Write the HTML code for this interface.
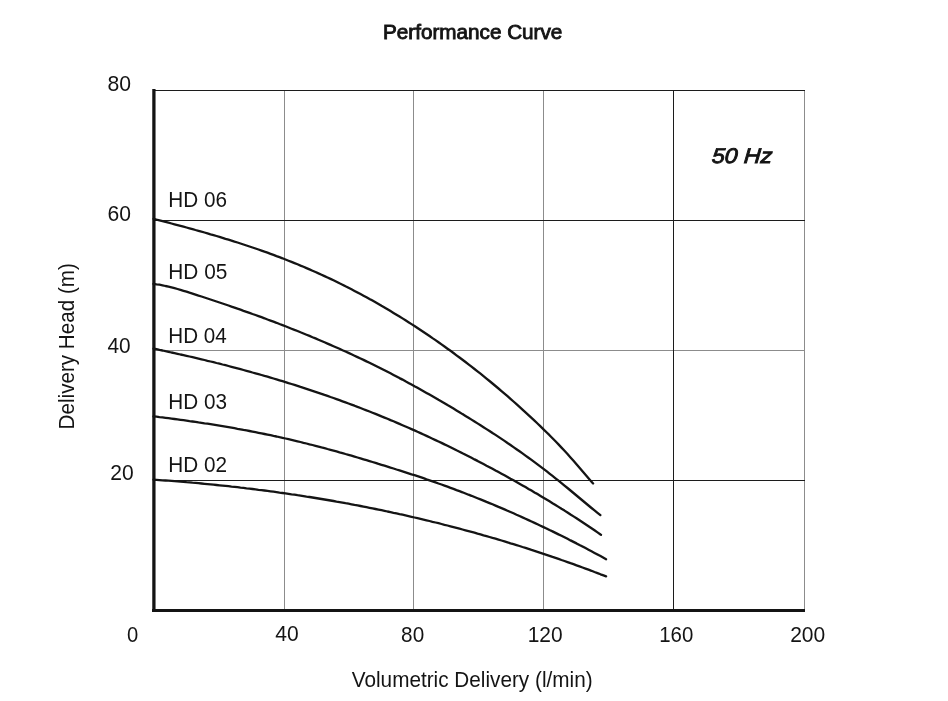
<!DOCTYPE html>
<html><head><meta charset="utf-8">
<style>
html,body{margin:0;padding:0;background:#fff;}
body{width:948px;height:701px;overflow:hidden;}
svg{display:block;will-change:transform;}
text{font-family:"Liberation Sans",sans-serif;fill:#141414;}
</style></head><body>
<svg width="948" height="701" viewBox="0 0 948 701">
<rect width="948" height="701" fill="#fff"/>
<g stroke="#8c8c8c" stroke-width="1" fill="none">
<line x1="284.5" y1="90" x2="284.5" y2="610"/>
<line x1="413.5" y1="90" x2="413.5" y2="610"/>
<line x1="543.5" y1="90" x2="543.5" y2="610"/>
<line x1="804.5" y1="90" x2="804.5" y2="610"/>
<line x1="153" y1="350.5" x2="804" y2="350.5"/>
</g>
<g stroke="#1c1c1c" fill="none" stroke-width="1">
<line x1="673.5" y1="90" x2="673.5" y2="610"/>
<line x1="153" y1="90.5" x2="805" y2="90.5"/>
<line x1="153" y1="220.5" x2="805" y2="220.5"/>
<line x1="153" y1="480.5" x2="805" y2="480.5"/>
</g>
<g stroke="#141414" fill="none">
<line x1="153.9" y1="89" x2="153.9" y2="612" stroke-width="3.3"/>
<line x1="152" y1="610.5" x2="805" y2="610.5" stroke-width="3"/>
</g>
<g stroke="#141414" stroke-width="2.3" fill="none" stroke-linejoin="round" stroke-linecap="round">
<polyline points="153.5,218.8 156.5,219.6 159.5,220.3 162.5,221.1 165.5,221.9 168.5,222.7 171.5,223.5 174.5,224.3 177.5,225.1 180.5,225.9 183.5,226.7 186.5,227.5 189.5,228.3 192.5,229.1 195.5,230.0 198.5,230.8 201.5,231.7 204.5,232.5 207.5,233.4 210.5,234.3 213.5,235.1 216.5,236.0 219.5,236.9 222.5,237.8 225.5,238.8 228.5,239.7 231.5,240.6 234.5,241.6 237.5,242.5 240.5,243.5 243.5,244.5 246.5,245.5 249.5,246.5 252.5,247.5 255.5,248.5 258.5,249.5 261.5,250.6 264.5,251.7 267.5,252.7 270.5,253.8 273.5,254.9 276.5,256.1 279.5,257.2 282.5,258.3 285.5,259.5 288.5,260.7 291.5,261.9 294.5,263.1 297.5,264.3 300.5,265.6 303.5,266.8 306.5,268.1 309.5,269.4 312.5,270.7 315.5,272.0 318.5,273.4 321.5,274.7 324.5,276.1 327.5,277.5 330.5,278.9 333.5,280.3 336.5,281.8 339.5,283.3 342.5,284.7 345.5,286.3 348.5,287.8 351.5,289.3 354.5,290.9 357.5,292.5 360.5,294.1 363.5,295.7 366.5,297.3 369.5,299.0 372.5,300.6 375.5,302.3 378.5,304.0 381.5,305.8 384.5,307.5 387.5,309.3 390.5,311.1 393.5,312.9 396.5,314.7 399.5,316.5 402.5,318.4 405.5,320.3 408.5,322.2 411.5,324.1 414.5,326.0 417.5,328.0 420.5,330.0 423.5,332.0 426.5,334.0 429.5,336.0 432.5,338.1 435.5,340.1 438.5,342.2 441.5,344.4 444.5,346.5 447.5,348.7 450.5,350.8 453.5,353.0 456.5,355.3 459.5,357.5 462.5,359.7 465.5,362.0 468.5,364.3 471.5,366.7 474.5,369.0 477.5,371.4 480.5,373.7 483.5,376.1 486.5,378.6 489.5,381.0 492.5,383.5 495.5,386.0 498.5,388.5 501.5,391.1 504.5,393.6 507.5,396.2 510.5,398.8 513.5,401.5 516.5,404.1 519.5,406.8 522.5,409.6 525.5,412.3 528.5,415.1 531.5,417.9 534.5,420.7 537.5,423.5 540.5,426.4 543.5,429.3 546.5,432.3 549.5,435.2 552.5,438.3 555.5,441.3 558.5,444.4 561.5,447.6 564.5,450.8 567.5,454.0 570.5,457.4 573.5,460.8 576.5,464.3 579.5,467.8 582.5,471.3 585.5,474.8 588.5,478.3 591.5,481.7 593.1,483.5"/>
<polyline points="153.5,283.8 156.5,284.3 159.5,284.7 162.5,285.3 165.5,286.0 168.5,286.6 171.5,287.4 174.5,288.2 177.5,289.0 180.5,289.9 183.5,290.8 186.5,291.7 189.5,292.7 192.5,293.6 195.5,294.6 198.5,295.6 201.5,296.5 204.5,297.5 207.5,298.5 210.5,299.5 213.5,300.5 216.5,301.5 219.5,302.5 222.5,303.5 225.5,304.5 228.5,305.5 231.5,306.6 234.5,307.6 237.5,308.7 240.5,309.7 243.5,310.8 246.5,311.8 249.5,312.9 252.5,314.0 255.5,315.0 258.5,316.1 261.5,317.2 264.5,318.3 267.5,319.5 270.5,320.6 273.5,321.7 276.5,322.8 279.5,324.0 282.5,325.1 285.5,326.3 288.5,327.5 291.5,328.7 294.5,329.9 297.5,331.0 300.5,332.3 303.5,333.5 306.5,334.7 309.5,335.9 312.5,337.2 315.5,338.4 318.5,339.7 321.5,341.0 324.5,342.3 327.5,343.6 330.5,344.9 333.5,346.2 336.5,347.5 339.5,348.8 342.5,350.2 345.5,351.5 348.5,352.9 351.5,354.3 354.5,355.7 357.5,357.1 360.5,358.5 363.5,359.9 366.5,361.4 369.5,362.8 372.5,364.3 375.5,365.8 378.5,367.3 381.5,368.8 384.5,370.3 387.5,371.8 390.5,373.3 393.5,374.9 396.5,376.5 399.5,378.1 402.5,379.6 405.5,381.3 408.5,382.9 411.5,384.5 414.5,386.2 417.5,387.8 420.5,389.5 423.5,391.2 426.5,392.9 429.5,394.6 432.5,396.3 435.5,398.0 438.5,399.8 441.5,401.5 444.5,403.3 447.5,405.1 450.5,406.8 453.5,408.6 456.5,410.4 459.5,412.2 462.5,414.1 465.5,415.9 468.5,417.7 471.5,419.6 474.5,421.5 477.5,423.4 480.5,425.3 483.5,427.2 486.5,429.1 489.5,431.0 492.5,433.0 495.5,434.9 498.5,436.9 501.5,438.9 504.5,440.9 507.5,443.0 510.5,445.0 513.5,447.1 516.5,449.2 519.5,451.3 522.5,453.4 525.5,455.6 528.5,457.7 531.5,459.9 534.5,462.1 537.5,464.4 540.5,466.6 543.5,468.9 546.5,471.2 549.5,473.6 552.5,475.9 555.5,478.3 558.5,480.7 561.5,483.1 564.5,485.6 567.5,488.0 570.5,490.5 573.5,493.0 576.5,495.5 579.5,498.0 582.5,500.5 585.5,503.0 588.5,505.5 591.5,508.0 594.5,510.4 597.5,512.8 600.4,515.1"/>
<polyline points="153.5,348.6 156.5,349.2 159.5,349.9 162.5,350.5 165.5,351.2 168.5,351.8 171.5,352.5 174.5,353.1 177.5,353.8 180.5,354.5 183.5,355.1 186.5,355.8 189.5,356.5 192.5,357.2 195.5,357.9 198.5,358.6 201.5,359.3 204.5,360.0 207.5,360.8 210.5,361.5 213.5,362.2 216.5,363.0 219.5,363.7 222.5,364.5 225.5,365.2 228.5,366.0 231.5,366.8 234.5,367.6 237.5,368.4 240.5,369.2 243.5,370.0 246.5,370.8 249.5,371.6 252.5,372.5 255.5,373.3 258.5,374.1 261.5,375.0 264.5,375.9 267.5,376.7 270.5,377.6 273.5,378.5 276.5,379.4 279.5,380.3 282.5,381.2 285.5,382.1 288.5,383.1 291.5,384.0 294.5,384.9 297.5,385.9 300.5,386.9 303.5,387.8 306.5,388.8 309.5,389.8 312.5,390.8 315.5,391.8 318.5,392.8 321.5,393.8 324.5,394.9 327.5,395.9 330.5,397.0 333.5,398.0 336.5,399.1 339.5,400.2 342.5,401.3 345.5,402.4 348.5,403.5 351.5,404.6 354.5,405.7 357.5,406.9 360.5,408.0 363.5,409.2 366.5,410.4 369.5,411.5 372.5,412.7 375.5,413.9 378.5,415.1 381.5,416.4 384.5,417.6 387.5,418.8 390.5,420.1 393.5,421.3 396.5,422.6 399.5,423.9 402.5,425.2 405.5,426.5 408.5,427.8 411.5,429.1 414.5,430.4 417.5,431.8 420.5,433.1 423.5,434.5 426.5,435.9 429.5,437.3 432.5,438.7 435.5,440.1 438.5,441.5 441.5,442.9 444.5,444.4 447.5,445.8 450.5,447.3 453.5,448.8 456.5,450.3 459.5,451.7 462.5,453.3 465.5,454.8 468.5,456.3 471.5,457.8 474.5,459.4 477.5,460.9 480.5,462.5 483.5,464.1 486.5,465.7 489.5,467.2 492.5,468.8 495.5,470.5 498.5,472.1 501.5,473.7 504.5,475.3 507.5,477.0 510.5,478.7 513.5,480.3 516.5,482.0 519.5,483.7 522.5,485.4 525.5,487.1 528.5,488.9 531.5,490.6 534.5,492.4 537.5,494.1 540.5,495.9 543.5,497.7 546.5,499.5 549.5,501.3 552.5,503.2 555.5,505.0 558.5,506.9 561.5,508.8 564.5,510.6 567.5,512.5 570.5,514.5 573.5,516.4 576.5,518.3 579.5,520.3 582.5,522.3 585.5,524.3 588.5,526.3 591.5,528.3 594.5,530.3 597.5,532.4 600.5,534.5 601.0,534.8"/>
<polyline points="153.5,416.3 156.5,416.7 159.5,417.1 162.5,417.4 165.5,417.8 168.5,418.2 171.5,418.6 174.5,419.0 177.5,419.4 180.5,419.8 183.5,420.2 186.5,420.6 189.5,421.1 192.5,421.5 195.5,421.9 198.5,422.4 201.5,422.8 204.5,423.3 207.5,423.7 210.5,424.2 213.5,424.7 216.5,425.2 219.5,425.7 222.5,426.2 225.5,426.7 228.5,427.2 231.5,427.7 234.5,428.2 237.5,428.8 240.5,429.3 243.5,429.9 246.5,430.4 249.5,431.0 252.5,431.6 255.5,432.2 258.5,432.8 261.5,433.4 264.5,434.0 267.5,434.6 270.5,435.2 273.5,435.9 276.5,436.5 279.5,437.2 282.5,437.8 285.5,438.5 288.5,439.2 291.5,439.9 294.5,440.6 297.5,441.3 300.5,442.0 303.5,442.8 306.5,443.5 309.5,444.3 312.5,445.0 315.5,445.8 318.5,446.6 321.5,447.4 324.5,448.1 327.5,449.0 330.5,449.8 333.5,450.6 336.5,451.4 339.5,452.3 342.5,453.1 345.5,454.0 348.5,454.8 351.5,455.7 354.5,456.6 357.5,457.5 360.5,458.4 363.5,459.3 366.5,460.2 369.5,461.1 372.5,462.0 375.5,462.9 378.5,463.9 381.5,464.8 384.5,465.7 387.5,466.6 390.5,467.6 393.5,468.5 396.5,469.5 399.5,470.4 402.5,471.3 405.5,472.3 408.5,473.3 411.5,474.3 414.5,475.2 417.5,476.2 420.5,477.2 423.5,478.2 426.5,479.3 429.5,480.3 432.5,481.4 435.5,482.4 438.5,483.5 441.5,484.5 444.5,485.6 447.5,486.7 450.5,487.8 453.5,488.9 456.5,490.1 459.5,491.2 462.5,492.3 465.5,493.5 468.5,494.7 471.5,495.8 474.5,497.0 477.5,498.2 480.5,499.4 483.5,500.6 486.5,501.9 489.5,503.1 492.5,504.3 495.5,505.6 498.5,506.9 501.5,508.1 504.5,509.4 507.5,510.7 510.5,512.0 513.5,513.3 516.5,514.7 519.5,516.0 522.5,517.4 525.5,518.7 528.5,520.1 531.5,521.5 534.5,522.9 537.5,524.3 540.5,525.7 543.5,527.1 546.5,528.5 549.5,530.0 552.5,531.4 555.5,532.9 558.5,534.4 561.5,535.8 564.5,537.3 567.5,538.8 570.5,540.4 573.5,541.9 576.5,543.4 579.5,545.0 582.5,546.5 585.5,548.1 588.5,549.7 591.5,551.3 594.5,552.9 597.5,554.5 600.5,556.1 603.5,557.8 606.1,559.2"/>
<polyline points="153.5,479.7 156.5,479.9 159.5,480.1 162.5,480.3 165.5,480.5 168.5,480.7 171.5,480.9 174.5,481.2 177.5,481.4 180.5,481.7 183.5,481.9 186.5,482.2 189.5,482.4 192.5,482.7 195.5,482.9 198.5,483.2 201.5,483.5 204.5,483.8 207.5,484.1 210.5,484.4 213.5,484.7 216.5,485.0 219.5,485.3 222.5,485.6 225.5,485.9 228.5,486.2 231.5,486.6 234.5,486.9 237.5,487.2 240.5,487.6 243.5,487.9 246.5,488.3 249.5,488.6 252.5,489.0 255.5,489.4 258.5,489.8 261.5,490.1 264.5,490.5 267.5,490.9 270.5,491.3 273.5,491.7 276.5,492.1 279.5,492.6 282.5,493.0 285.5,493.4 288.5,493.8 291.5,494.3 294.5,494.7 297.5,495.2 300.5,495.6 303.5,496.1 306.5,496.6 309.5,497.0 312.5,497.5 315.5,498.0 318.5,498.5 321.5,499.0 324.5,499.5 327.5,500.0 330.5,500.5 333.5,501.0 336.5,501.6 339.5,502.1 342.5,502.6 345.5,503.2 348.5,503.7 351.5,504.3 354.5,504.9 357.5,505.4 360.5,506.0 363.5,506.6 366.5,507.2 369.5,507.8 372.5,508.4 375.5,509.0 378.5,509.6 381.5,510.2 384.5,510.8 387.5,511.5 390.5,512.1 393.5,512.8 396.5,513.4 399.5,514.1 402.5,514.7 405.5,515.4 408.5,516.1 411.5,516.8 414.5,517.5 417.5,518.2 420.5,518.9 423.5,519.6 426.5,520.3 429.5,521.0 432.5,521.8 435.5,522.5 438.5,523.2 441.5,524.0 444.5,524.8 447.5,525.5 450.5,526.3 453.5,527.1 456.5,527.9 459.5,528.7 462.5,529.5 465.5,530.3 468.5,531.1 471.5,531.9 474.5,532.7 477.5,533.6 480.5,534.4 483.5,535.3 486.5,536.1 489.5,537.0 492.5,537.9 495.5,538.7 498.5,539.6 501.5,540.5 504.5,541.4 507.5,542.3 510.5,543.3 513.5,544.2 516.5,545.1 519.5,546.0 522.5,547.0 525.5,547.9 528.5,548.9 531.5,549.9 534.5,550.8 537.5,551.8 540.5,552.8 543.5,553.8 546.5,554.8 549.5,555.8 552.5,556.9 555.5,557.9 558.5,558.9 561.5,560.0 564.5,561.0 567.5,562.1 570.5,563.2 573.5,564.2 576.5,565.3 579.5,566.4 582.5,567.5 585.5,568.6 588.5,569.7 591.5,570.8 594.5,572.0 597.5,573.1 600.5,574.3 603.5,575.4 606.1,576.4"/>
</g>
<text transform="translate(383.02,38.84) scale(1.0611,1.0000)" font-size="19.50" stroke="#141414" stroke-width="0.85">Performance Curve</text>
<text transform="translate(351.80,687.20) scale(0.9693,1.0000)" font-size="21.40" >Volumetric Delivery (l/min)</text>
<text transform="translate(73.70,429.40) rotate(-90) scale(0.9650,1.0000)" font-size="21.40" >Delivery Head (m)</text>
<text transform="translate(711.43,162.76) scale(1.0907,1.0000) skewX(-4.00)" font-size="21.20" font-style="italic" stroke="#141414" stroke-width="0.9">50 Hz</text>
<text transform="translate(107.51,91.08) scale(0.9912,1.0000)" font-size="21.40" >80</text>
<text transform="translate(107.40,220.69) scale(0.9865,1.0000)" font-size="21.40" >60</text>
<text transform="translate(107.38,352.69) scale(0.9744,1.0000)" font-size="21.40" >40</text>
<text transform="translate(110.37,480.00) scale(0.9837,1.0000)" font-size="21.40" >20</text>
<text transform="translate(126.93,641.74) scale(0.9444,1.0000)" font-size="21.40" >0</text>
<text transform="translate(275.36,641.29) scale(0.9839,1.0000)" font-size="21.40" >40</text>
<text transform="translate(401.10,641.58) scale(0.9701,1.0000)" font-size="21.40" >80</text>
<text transform="translate(527.70,641.70) scale(0.9794,1.0000)" font-size="21.40" >120</text>
<text transform="translate(659.22,641.70) scale(0.9548,1.0000)" font-size="21.40" >160</text>
<text transform="translate(790.14,641.70) scale(0.9823,1.0000)" font-size="21.40" >200</text>
<text transform="translate(168.32,207.40) scale(0.9688,1.0000)" font-size="21.40" >HD 06</text>
<text transform="translate(168.32,278.60) scale(0.9730,1.0000)" font-size="21.40" >HD 05</text>
<text transform="translate(168.32,343.00) scale(0.9651,1.0000)" font-size="21.40" >HD 04</text>
<text transform="translate(168.32,409.00) scale(0.9689,1.0000)" font-size="21.40" >HD 03</text>
<text transform="translate(168.32,472.20) scale(0.9703,1.0000)" font-size="21.40" >HD 02</text>
</svg>
</body></html>
